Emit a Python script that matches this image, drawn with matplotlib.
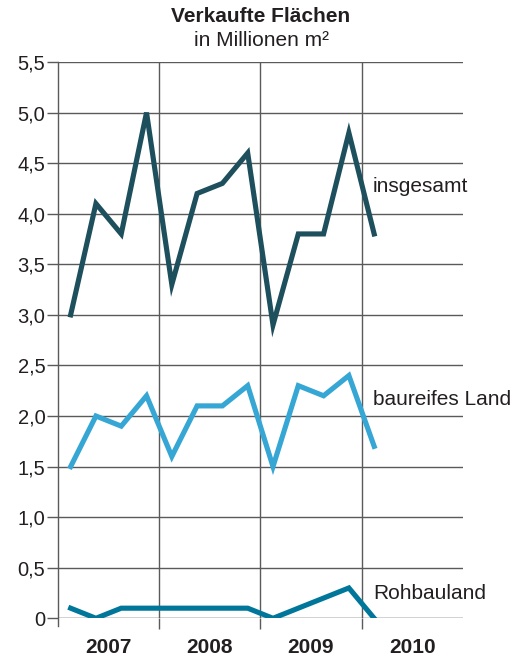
import matplotlib
matplotlib.use("Agg")
import matplotlib.pyplot as plt
from matplotlib.ticker import FixedLocator, FixedFormatter

plt.rcParams['font.family'] = ['Liberation Sans', 'DejaVu Sans']

years = ["2007", "2008", "2009", "2010"]
quarters = ["2007 Q1", "2007 Q2", "2007 Q3", "2007 Q4",
            "2008 Q1", "2008 Q2", "2008 Q3", "2008 Q4",
            "2009 Q1", "2009 Q2", "2009 Q3", "2009 Q4",
            "2010 Q1"]
insgesamt = [3.0, 4.1, 3.8, 5.0, 3.3, 4.2, 4.3, 4.6, 2.9, 3.8, 3.8, 4.8, 3.8]
baureifes = [1.5, 2.0, 1.9, 2.2, 1.6, 2.1, 2.1, 2.3, 1.5, 2.3, 2.2, 2.4, 1.7]
rohbauland = [0.1, 0.0, 0.1, 0.1, 0.1, 0.1, 0.1, 0.1, 0.0, 0.1, 0.2, 0.3, 0.0]
y_ticks = [0, 0.5, 1.0, 1.5, 2.0, 2.5, 3.0, 3.5, 4.0, 4.5, 5.0, 5.5]
y_labels = ["0", "0,5", "1,0", "1,5", "2,0", "2,5", "3,0", "3,5", "4,0", "4,5", "5,0", "5,5"]

fig = plt.figure(figsize=(5.24, 6.62), dpi=100)
ax = fig.add_axes([58/524, 1-618.3/662, (462.7-58)/524, (618.3-62)/662])

x = [i + 0.5 for i in range(len(quarters))]

grid_c = "#5a5a5a"
txt_c = "#231f20"
for yv in y_ticks:
    ax.axhline(yv, color=grid_c if yv > 0 else "#222222", lw=1.0, zorder=1)
for xv in [4, 8, 12]:
    ax.axvline(xv, color=grid_c, lw=1.0, zorder=1)

ax.plot(x, insgesamt, color="#1d4f5c", lw=3.7, solid_joinstyle="miter", zorder=3)
ax.plot(x, baureifes, color="#36a6d4", lw=3.7, solid_joinstyle="miter", zorder=3)
ax.plot(x, rohbauland, color="#00779a", lw=3.7, solid_joinstyle="miter", zorder=3)

ax.set_xlim(0, 16)
ax.set_ylim(0, 5.5)
for s in ["top", "right", "bottom"]:
    ax.spines[s].set_visible(False)
ax.spines["left"].set_color(grid_c)
ax.spines["left"].set_linewidth(1.0)
ax.spines["left"].set_bounds(-0.08, 5.5)
ax.spines["left"].set_zorder(1)

ax.yaxis.set_major_locator(FixedLocator(y_ticks))
ax.yaxis.set_major_formatter(FixedFormatter(y_labels))
ax.tick_params(axis="y", length=8, width=1.0, color=grid_c, labelsize=14.5, pad=1, labelcolor=txt_c)

ax.xaxis.set_major_locator(FixedLocator([4, 8, 12]))
ax.xaxis.set_major_formatter(FixedFormatter(["", "", ""]))
ax.tick_params(axis="x", which="major", length=8, width=1.0, color=grid_c)
ax.xaxis.set_minor_locator(FixedLocator([2, 6, 10, 14]))
ax.xaxis.set_minor_formatter(FixedFormatter(years))
ax.tick_params(axis="x", which="minor", length=0, labelsize=15, pad=14.5, labelcolor=txt_c)
for lab in ax.get_xticklabels(minor=True):
    lab.set_fontweight("bold")

ax.text(12.45, 4.27, "insgesamt", fontsize=15, color=txt_c, va="center", ha="left")
ax.text(12.45, 2.16, "baureifes Land", fontsize=15, color=txt_c, va="center", ha="left")
ax.text(12.45, 0.25, "Rohbauland", fontsize=15, color=txt_c, va="center", ha="left")

fig.text(261/524, 1-17/662, "Verkaufte Flächen", ha="center", va="center",
         fontsize=15, fontweight="bold", color=txt_c)
fig.text(261/524, 1-41/662, "in Millionen m²", ha="center", va="center",
         fontsize=15, color=txt_c)

fig.savefig("out.png", dpi=100)
